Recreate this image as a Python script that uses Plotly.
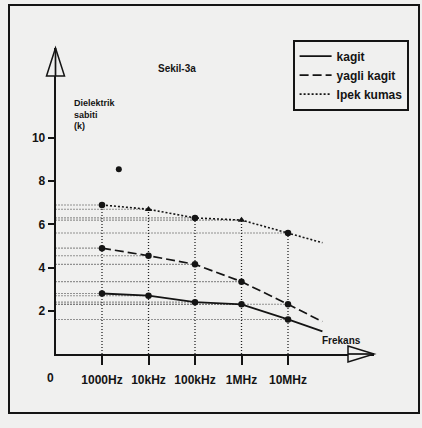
import plotly.graph_objects as go

# ---------------- data ----------------
freq_hz = [1e3, 1e4, 1e5, 1e6, 1e7]
freq_labels = ["1000Hz", "10kHz", "100kHz", "1MHz", "10MHz"]
kagit = [2.8, 2.7, 2.4, 2.3, 1.6]
yagli_kagit = [4.9, 4.55, 4.15, 3.35, 2.3]
ipek_kumas = [6.9, 6.7, 6.3, 6.2, 5.6]
# where each curve runs on past the last measured frequency
tail_freq = 5.5e7
kagit_tail = 1.05
yagli_tail = 1.5
ipek_tail = 5.15
stray_freq = [2.3e3]
stray_val = [8.55]
y_ticks = [2, 4, 6, 8, 10]
origin_freq = 1e2

# ---------------- geometry (pixels) ----------------
W, H = 422, 428
X0PX, DEC_PX = 55.5, 46.5      # log10(f)=2 at X0PX
Y0PX, UNIT_PX = 354.0, 21.6    # value 0 at Y0PX
XR_PX, YT_PX = 374.0, 48.0     # axis ends (arrow tips)


def fx(px):
    return px / W


def fy(py):
    return 1 - py / H


x_range = [2, 2 + (XR_PX - X0PX) / DEC_PX]
y_range = [0, (Y0PX - YT_PX) / UNIT_PX]

INK = "#141414"
BG = "#f0f0ef"
FONT = "Liberation Sans, Arial, sans-serif"

fig = go.Figure()

series = [
    ("kagit", kagit, kagit_tail, "solid", 1.8),
    ("yagli kagit", yagli_kagit, yagli_tail, "9px,4px", 1.7),
    ("Ipek kumas", ipek_kumas, ipek_tail, "2px,2px", 1.6),
]

# dotted projection lines from each point to the y axis
for name, vals, tail, dash, w in series:
    gx, gy = [], []
    for f, v in zip(freq_hz, vals):
        gx += [origin_freq, f, None]
        gy += [v, v, None]
    fig.add_trace(go.Scatter(x=gx, y=gy, mode="lines", showlegend=False,
                             hoverinfo="skip",
                             line=dict(color="#333333", width=1.1, dash="1px,2px")))

# dotted vertical lines from the frequency axis up to the highest point
top = [max(a, b, c) for a, b, c in zip(kagit, yagli_kagit, ipek_kumas)]
vx, vy = [], []
for f, t in zip(freq_hz, top):
    vx += [f, f, None]
    vy += [0, t, None]
fig.add_trace(go.Scatter(x=vx, y=vy, mode="lines", showlegend=False,
                         hoverinfo="skip",
                         line=dict(color="#222222", width=1.3, dash="1px,2px")))

# the three curves
for i, (name, vals, tail, dash, w) in enumerate(series):
    fig.add_trace(go.Scatter(x=freq_hz + [tail_freq], y=vals + [tail],
                             mode="lines", name=name, legendgroup=f"g{i}",
                             line=dict(color=INK, width=w, dash=dash)))

# measured points
for name, vals, tail, dash, w in series:
    symbols = ["circle"] * len(vals)
    if name == "Ipek kumas":
        symbols[1] = "triangle-up"
        symbols[3] = "triangle-up"
    fig.add_trace(go.Scatter(x=freq_hz, y=vals, mode="markers", showlegend=False,
                             marker=dict(color=INK, size=6.5, symbol=symbols)))

fig.add_trace(go.Scatter(x=stray_freq, y=stray_val, mode="markers", showlegend=False,
                         marker=dict(color=INK, size=6, symbol="circle")))

axis_common = dict(showgrid=False, zeroline=False, showline=True, linecolor=INK,
                   linewidth=1.7, ticks="outside", tickcolor=INK, tickwidth=1.5,
                   tickfont=dict(family=FONT, size=12, color=INK, weight="bold"))

fig.update_layout(
    width=W, height=H,
    margin=dict(l=0, r=0, t=0, b=0),
    paper_bgcolor=BG, plot_bgcolor=BG,
    showlegend=True,
    xaxis=dict(type="log", range=x_range, domain=[fx(X0PX), fx(XR_PX)],
               tickvals=freq_hz, ticktext=freq_labels, ticklen=9,
               ticklabelstandoff=5, anchor="y", **axis_common),
    yaxis=dict(range=y_range, domain=[fy(Y0PX), fy(YT_PX)],
               tickvals=y_ticks, ticktext=[str(t) for t in y_ticks], ticklen=6,
               anchor="x", **axis_common),
    legend=dict(x=fx(293), y=fy(40), xanchor="left", yanchor="top",
                bgcolor=BG, bordercolor=INK, borderwidth=1.6,
                font=dict(family=FONT, size=12, color=INK, weight="bold"),
                tracegroupgap=7, traceorder="normal", itemwidth=32),
)

# arrow heads (open triangles) at the axis ends
ax_tip_y = fy(YT_PX)
ax_base_y = fy(YT_PX + 28)
fig.add_shape(type="path", xref="paper", yref="paper",
              path=f"M {fx(X0PX-9)} {ax_base_y} L {fx(X0PX)} {ax_tip_y} L {fx(X0PX+9)} {ax_base_y} Z",
              line=dict(color=INK, width=1.5), fillcolor=BG)
fig.add_shape(type="line", xref="paper", yref="paper",
              x0=fx(X0PX), x1=fx(X0PX), y0=ax_base_y, y1=ax_tip_y,
              line=dict(color=INK, width=1.7))
fig.add_shape(type="path", xref="paper", yref="paper",
              path=f"M {fx(XR_PX-26)} {fy(Y0PX-8)} L {fx(XR_PX)} {fy(Y0PX)} L {fx(XR_PX-26)} {fy(Y0PX+8)} Z",
              line=dict(color=INK, width=1.5), fillcolor=BG)
fig.add_shape(type="line", xref="paper", yref="paper",
              x0=fx(XR_PX - 26), x1=fx(XR_PX), y0=fy(Y0PX), y1=fy(Y0PX),
              line=dict(color=INK, width=1.7))

# outer frame of the figure
fig.add_shape(type="rect", xref="paper", yref="paper",
              x0=fx(9), x1=fx(419), y0=fy(413), y1=fy(5),
              line=dict(color=INK, width=2))


def label(text, px, py, size, xanchor="center", yanchor="middle", align="center"):
    fig.add_annotation(x=fx(px), y=fy(py), xref="paper", yref="paper",
                       xanchor=xanchor, yanchor=yanchor, align=align,
                       text=text, showarrow=False,
                       font=dict(family=FONT, size=size, color=INK, weight="bold"))


label("Sekil-3a", 177, 68, 10)
label("Dielektrik<br>sabiti<br>(k)", 72, 96, 9, xanchor="left", yanchor="top", align="left")
label("Frekans", 341, 340, 10)
label("0", 50, 378, 12)

fig.write_html("out.html",
               config={"displayModeBar": False},
               post_script="document.body.style.margin='0';"
                           "document.body.style.background='#f0f0ef';")
